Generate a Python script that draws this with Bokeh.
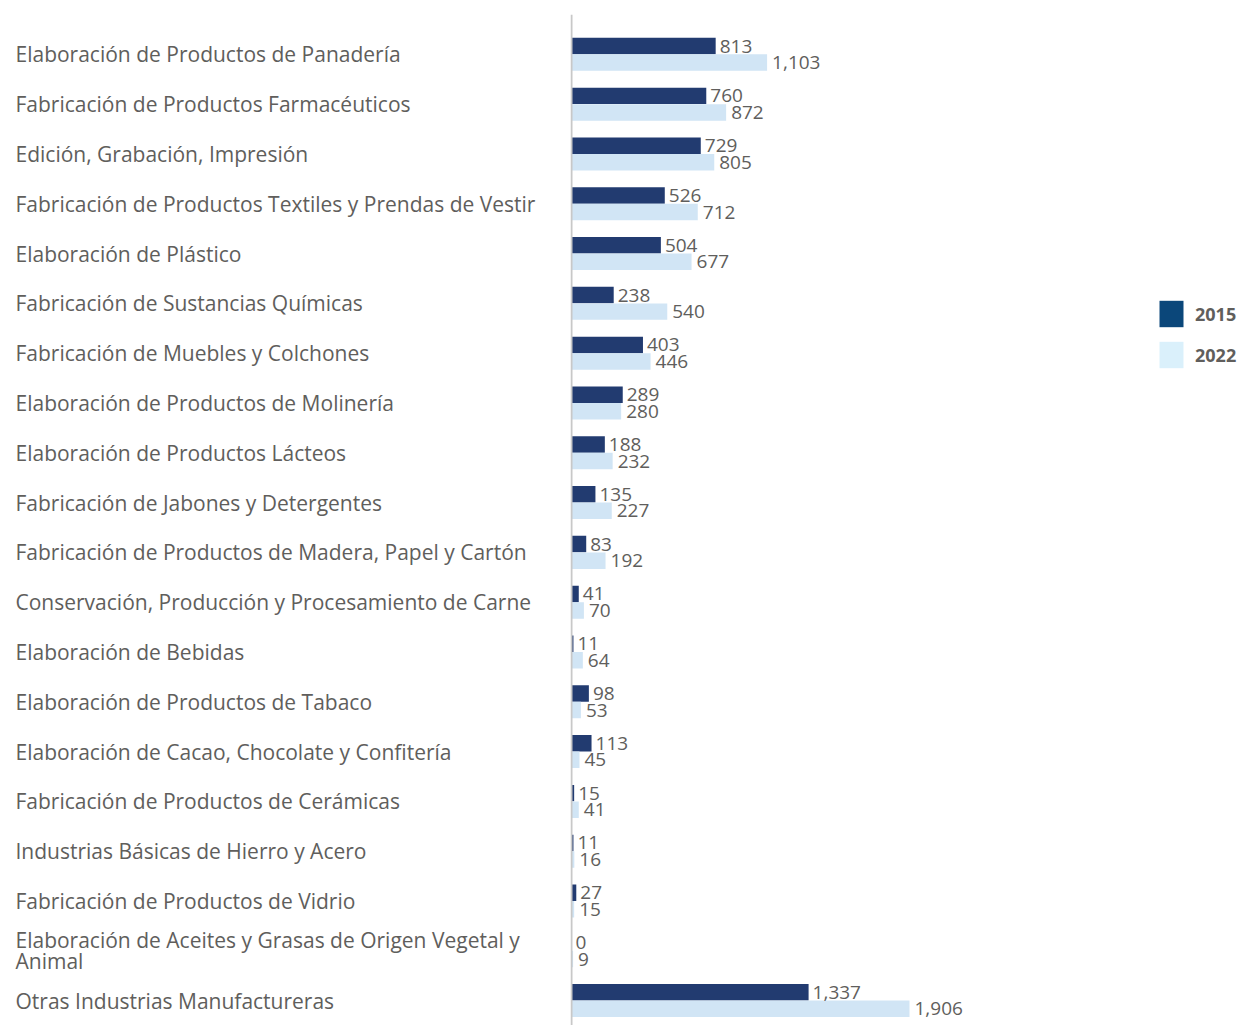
import numpy as np
from bokeh.plotting import figure
from bokeh.layouts import row
from bokeh.models import ColumnDataSource, Range1d, Span, Legend, LegendItem
from bokeh.transform import dodge
from bokeh.core.properties import value
from bokeh.embed import file_html
from bokeh.resources import INLINE

categories = [
    "Elaboración de Productos de Panadería",
    "Fabricación de Productos Farmacéuticos",
    "Edición, Grabación, Impresión",
    "Fabricación de Productos Textiles y Prendas de Vestir",
    "Elaboración de Plástico",
    "Fabricación de Sustancias Químicas",
    "Fabricación de Muebles y Colchones",
    "Elaboración de Productos de Molinería",
    "Elaboración de Productos Lácteos",
    "Fabricación de Jabones y Detergentes",
    "Fabricación de Productos de Madera, Papel y Cartón",
    "Conservación, Producción y Procesamiento de Carne",
    "Elaboración de Bebidas",
    "Elaboración de Productos de Tabaco",
    "Elaboración de Cacao, Chocolate y Confitería",
    "Fabricación de Productos de Cerámicas",
    "Industrias Básicas de Hierro y Acero",
    "Fabricación de Productos de Vidrio",
    "Elaboración de Aceites y Grasas de Origen Vegetal y\nAnimal",
    "Otras Industrias Manufactureras",
]
values_2015 = [813, 760, 729, 526, 504, 238, 403, 289, 188, 135, 83, 41, 11, 98, 113, 15, 11, 27, 0, 1337]
values_2022 = [1103, 872, 805, 712, 677, 540, 446, 280, 232, 227, 192, 70, 64, 53, 45, 41, 16, 15, 9, 1906]
series_names = ["2015", "2022"]

BAR_DARK = "#223B70"
BAR_LIGHT = "#D1E5F5"
LEG_DARK = "#0B477A"
LEG_LIGHT = "#DAF0FB"
TEXT = "#605E5C"
FONT = "Open Sans"

n = len(categories)
ypos = np.arange(n)
src = ColumnDataSource(dict(
    y=ypos,
    cat=categories,
    v15=values_2015,
    v22=values_2022,
    l15=[f"{v:,}" for v in values_2015],
    l22=[f"{v:,}" for v in values_2022],
))

H = 1025
TOP = 14
y_range = Range1d(start=n - 1 + 0.50, end=-0.80)

# left: category labels
LW = 570
left = figure(width=LW, height=H, x_range=Range1d(0, 1), y_range=y_range,
              output_backend="svg", toolbar_location=None,
              x_axis_location=None, y_axis_location=None,
              min_border_left=0, min_border_right=0, min_border_top=TOP, min_border_bottom=0)
left.outline_line_color = None
left.grid.grid_line_color = None
left.text(x=0, y="y", text="cat", source=src, x_offset=15,
          text_align="left", text_baseline="middle",
          text_font=value(FONT), text_font_size="21px", text_color=TEXT,
          text_line_height=0.75)

# right: bars
W = 1240 - LW
scale = 1906 / 338.0  # units per pixel
x_start = -1 * scale
p = figure(width=W, height=H, x_range=Range1d(x_start, x_start + W * scale), y_range=y_range,
           output_backend="svg", toolbar_location=None,
           x_axis_location=None, y_axis_location=None,
           min_border_left=0, min_border_right=0, min_border_top=TOP, min_border_bottom=0)
p.outline_line_color = None
p.grid.grid_line_color = None

bh = 0.331
off = 0.166
p.hbar(y=dodge("y", -off), left=0, right="v15", height=bh, source=src,
       fill_color=BAR_DARK, line_color=None)
p.hbar(y=dodge("y", off), left=0, right="v22", height=bh, source=src,
       fill_color=BAR_LIGHT, line_color=None)
p.text(x="v15", y=dodge("y", -off), text="l15", source=src, x_offset=4,
       text_align="left", text_baseline="middle",
       text_font=value(FONT), text_font_size="19px", text_color=TEXT)
p.text(x="v22", y=dodge("y", off), text="l22", source=src, x_offset=5,
       text_align="left", text_baseline="middle",
       text_font=value(FONT), text_font_size="19px", text_color=TEXT)

p.add_layout(Span(location=0, dimension="height", line_color="#C8C8C8", line_width=2))

r1 = p.hbar(y=[0], left=[0], right=[0], height=0.3, fill_color=LEG_DARK, line_color=None)
r2 = p.hbar(y=[0], left=[0], right=[0], height=0.3, fill_color=LEG_LIGHT, line_color=None)
legend = Legend(items=[LegendItem(label=series_names[0], renderers=[r1]),
                       LegendItem(label=series_names[1], renderers=[r2])],
                location=(586, 654), glyph_width=30, glyph_height=33,
                label_standoff=9, spacing=8, padding=0, margin=0,
                border_line_alpha=0, background_fill_alpha=0,
                label_text_font=FONT, label_text_font_size="18px",
                label_text_font_style="bold", label_text_color=TEXT,
                label_height=33)
p.add_layout(legend)

layout = row(left, p, spacing=0)
open("out.html", "w").write(file_html(layout, INLINE))
